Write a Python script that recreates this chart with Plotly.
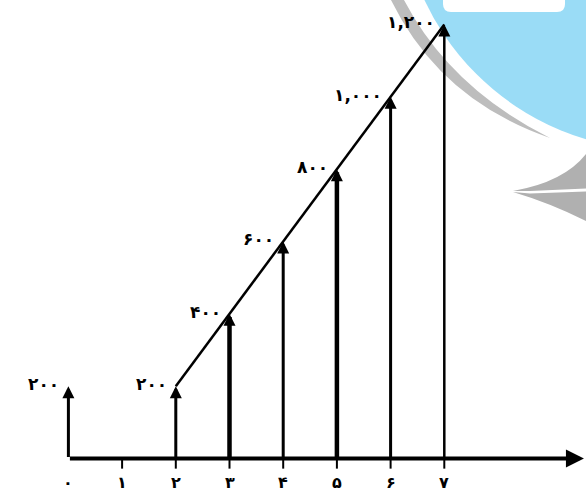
import plotly.graph_objects as go

# cash flow diagram: gradient series starting at period 2
periods = [0, 1, 2, 3, 4, 5, 6, 7]
period_labels = ["۰", "۱", "۲", "۳", "۴", "۵", "۶", "۷"]

flow_periods = [0, 2, 3, 4, 5, 6, 7]
flow_values = [200, 200, 400, 600, 800, 1000, 1200]
flow_labels = ["۲۰۰", "۲۰۰", "۴۰۰", "۶۰۰", "۸۰۰", "۱,۰۰۰", "۱,۲۰۰"]

gradient_periods = [2, 3, 4, 5, 6, 7]
gradient_values = [200, 400, 600, 800, 1000, 1200]

axis_end = 9.6
flow_widths = [3, 3, 4.5, 3, 4.5, 3, 2.5]

W, H = 586, 493
FONT = "DejaVu Sans"


def px(x):
    return x / W


def py(y):
    return 1 - y / H


def path(points):
    # points in pixels, strings like "M", "Q", "L", "Z" passed through
    out = []
    for p in points:
        if isinstance(p, str):
            out.append(p)
        else:
            out.append(f"{px(p[0]):.4f},{py(p[1]):.4f}")
    return " ".join(out)


fig = go.Figure()

# little ticks under the time axis
tick_x, tick_y = [], []
for t in periods[1:]:
    tick_x += [t, t, None]
    tick_y += [0, -28, None]
fig.add_trace(go.Scatter(x=tick_x, y=tick_y, mode="lines",
                         line=dict(color="black", width=2), hoverinfo="skip"))

# gradient line through the arrow tips
fig.add_trace(go.Scatter(x=gradient_periods, y=gradient_values, mode="lines",
                         line=dict(color="black", width=2.5), hoverinfo="skip"))

annotations = []
# time axis with arrow
annotations.append(dict(x=axis_end, y=0, ax=0, ay=0, xref="x", yref="y",
                        axref="x", ayref="y", text="", showarrow=True,
                        arrowhead=2, arrowwidth=4, arrowsize=0.9, arrowcolor="black"))

label_font = dict(family=FONT, size=17, color="black", weight="bold")
tick_font = dict(family=FONT, size=16, color="black", weight="bold")

for t, v, lab, w in zip(flow_periods, flow_values, flow_labels, flow_widths):
    annotations.append(dict(x=t, y=v, ax=t, ay=0, xref="x", yref="y",
                            axref="x", ayref="y", text="", showarrow=True,
                            arrowhead=2, arrowwidth=w, arrowsize=2.4 / w,
                            arrowcolor="black"))
    annotations.append(dict(x=t, y=v, xref="x", yref="y", text=lab, showarrow=False,
                            xanchor="right", yanchor="middle", xshift=-7, yshift=2,
                            font=label_font))

for t, lab in zip(periods, period_labels):
    annotations.append(dict(x=t, y=0, xref="x", yref="y", text=lab, showarrow=False,
                            xanchor="center", yanchor="middle", yshift=-24,
                            font=tick_font))

# background watermark
shapes = [
    dict(type="path", xref="paper", yref="paper", layer="below",
         path=path(["M", (391, 0), "Q", (440, 100), (550, 138),
                    "Q", (450, 88), (404, 0), "Z"]),
         fillcolor="#bdbdbd", line=dict(width=0)),
    dict(type="circle", xref="paper", yref="paper", layer="below",
         x0=px(400), x1=px(920), y0=py(150), y1=py(-370),
         fillcolor="#9adcf6", line=dict(width=0)),
    dict(type="path", xref="paper", yref="paper", layer="below",
         path=path(["M", (443, -5), "L", (443, 4), "Q", (443, 12), (451, 12),
                    "L", (557, 12), "Q", (565, 12), (565, 4), "L", (565, -5), "Z"]),
         fillcolor="white", line=dict(width=0)),
    dict(type="path", xref="paper", yref="paper", layer="below",
         path=path(["M", (513, 191), "Q", (564, 182), (586, 154),
                    "L", (586, 188.5), "L", (530, 191), "Z"]),
         fillcolor="#b0b0b0", line=dict(width=0)),
    dict(type="path", xref="paper", yref="paper", layer="below",
         path=path(["M", (513, 192), "L", (530, 193.5), "L", (586, 191.5),
                    "L", (586, 221), "Q", (550, 203), (513, 192), "Z"]),
         fillcolor="#b0b0b0", line=dict(width=0)),
]

# pixel = 68.4 + 53.7 * t ; pixel = 458.5 - 0.3617 * v
fig.update_layout(
    width=W, height=H,
    margin=dict(l=0, r=0, t=0, b=0),
    paper_bgcolor="white", plot_bgcolor="rgba(0,0,0,0)",
    showlegend=False,
    xaxis=dict(range=[-68.4 / 53.7, (W - 68.4) / 53.7], visible=False, fixedrange=True),
    yaxis=dict(range=[(458.5 - H) / 0.3617, 458.5 / 0.3617], visible=False, fixedrange=True),
    annotations=annotations,
    shapes=shapes,
)

# the page body has a default margin; drop it so the figure sits at 0,0
fig.write_html("out.html", config={"displayModeBar": False},
               post_script="document.body.style.margin = '0';")
